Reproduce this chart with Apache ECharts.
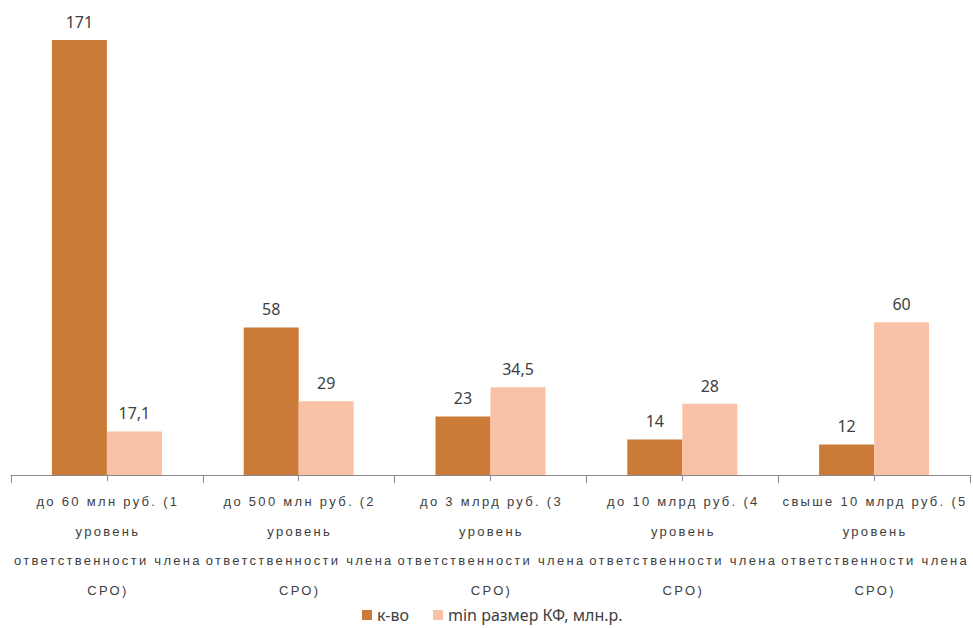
<!DOCTYPE html>
<html><head><meta charset="utf-8">
<script src="https://cdn.jsdelivr.net/npm/echarts@6/dist/echarts.min.js"></script>
<style>html,body{margin:0;padding:0;background:#fff}#c{width:973px;height:628px}
#c text[style*="Liberation"]{letter-spacing:2.3px}</style>
</head><body><div id="c"></div>
<script>
const categories = [
  "до 60 млн руб. (1\nуровень\nответственности члена\nСРО)",
  "до 500 млн руб. (2\nуровень\nответственности члена\nСРО)",
  "до 3 млрд руб. (3\nуровень\nответственности члена\nСРО)",
  "до 10 млрд руб. (4\nуровень\nответственности члена\nСРО)",
  "свыше 10 млрд руб. (5\nуровень\nответственности члена\nСРО)"
];
const seriesNames = ["к-во", "min размер КФ, млн.р."];
const countValues = [171, 58, 23, 14, 12];
const minFundValues = [17.1, 29, 34.5, 28, 60];

const chart = echarts.init(document.getElementById('c'), null, {renderer: 'svg'});
const labelStyle = {
  show: true, position: 'top', distance: 10,
  color: '#404040', fontSize: 16, fontFamily: 'Noto Sans',
  formatter: p => String(p.value).replace('.', ',')
};
chart.setOption({
  animation: false,
  legend: {
    data: seriesNames, top: 607, left: 362, padding: 0,
    itemWidth: 10, itemHeight: 10, itemGap: 24,
    icon: 'rect',
    textStyle: {color: '#404040', fontSize: 16, fontFamily: 'Noto Sans'}
  },
  grid: {left: 11, right: 3, top: 17, bottom: 153},
  xAxis: [{
    type: 'category', data: categories,
    axisLine: {lineStyle: {color: '#898989', width: 1}},
    axisTick: {show: true, length: 8, lineStyle: {color: '#898989'}},
    axisLabel: {
      interval: 0, color: '#404040', fontSize: 13, fontFamily: 'Liberation Sans',
      lineHeight: 29.5, margin: 12, align: 'center', padding: [0, 0, 0, 2]
    }
  }, {
    type: 'value', min: 0, max: 10, interval: 1, position: 'bottom',
    axisLine: {show: false},
    axisTick: {show: true, length: 6, lineStyle: {color: '#898989'}},
    axisLabel: {show: false}, splitLine: {show: false}
  }],
  yAxis: {type: 'value', min: 0, max: 180, show: false, splitLine: {show: false}},
  series: [{
    name: seriesNames[0], type: 'bar', data: countValues,
    barWidth: 55, barGap: '0%',
    itemStyle: {color: '#CC7A38'}, label: labelStyle
  }, {
    name: seriesNames[1], type: 'bar', data: minFundValues,
    barWidth: 55, barGap: '0%',
    itemStyle: {color: '#F9C2A6'}, label: labelStyle
  }]
});
</script></body></html>
